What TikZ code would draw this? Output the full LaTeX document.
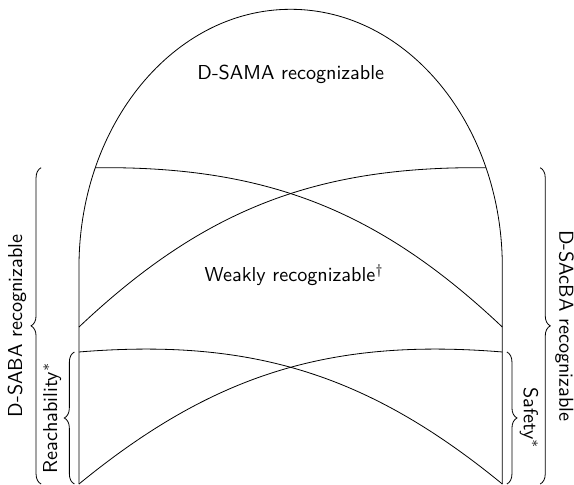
\documentclass[tikz,border=0pt]{standalone}
\usetikzlibrary{decorations.pathreplacing}

\tikzset{
  lab/.style={font=\sffamily},
  accol/.style={decorate,decoration={brace,amplitude=5pt}},
  arcin/.style={bend left=22}
}

\begin{document}
\begin{tikzpicture}
\useasboundingbox (-1.376,0) rectangle (8.624,8.432);
% la cloche
\draw (0,0) -- (0,3.78) arc[start angle=180,end angle=0,x radius=3.6875,y radius=4.49] -- (7.375,0);
\coordinate (hg) at (0.28,5.51);  \coordinate (hd) at (7.09,5.51);
\coordinate (mg) at (0,2.735);    \coordinate (md) at (7.375,2.735);
\coordinate (bg) at (0,2.30);     \coordinate (bd) at (7.375,2.30);
\coordinate (og) at (0,0);        \coordinate (od) at (7.375,0);
\draw (hg) to[arcin] (md);
\draw (mg) to[arcin] (hd);
\draw (bg) to[arcin] (od);
\draw (og) to[arcin] (bd);
\node[lab] (sama) at (3.69,7.13) {D-SAMA recognizable};
\node[lab] (weak) at (3.75,3.64) {Weakly recognizable$^\dagger$};
% accolades
\draw[accol] (-0.66,0) -- (-0.66,5.51) node[lab,midway,xshift=-12pt,rotate=90] (saba) {D-SABA recognizable};
\draw[accol] (-0.08,0) -- (-0.08,2.30) node[lab,midway,xshift=-11pt,rotate=90] (reach) {Reachability$^*$};
\draw[accol] (8.035,5.51) -- (8.035,0) node[lab,midway,xshift=12pt,rotate=-90] (sacba) {D-SAcBA recognizable};
\draw[accol] (7.455,2.30) -- (7.455,0) node[lab,midway,xshift=11pt,rotate=-90] (safe) {Safety$^*$};
\end{tikzpicture}
\end{document}
